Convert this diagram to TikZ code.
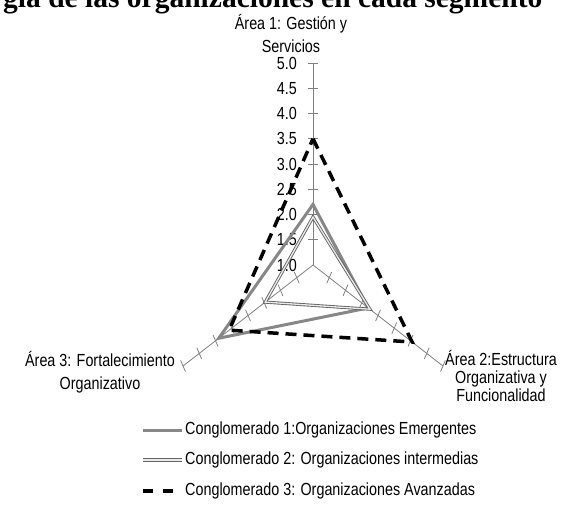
\documentclass[tikz,border=0pt]{standalone}
\usepackage{fontspec}
\setmainfont{Liberation Sans}
\newfontfamily\chartfont[FakeStretch=0.82]{Liberation Sans}
\newfontfamily\titlefont{Liberation Serif}
\definecolor{axisgray}{RGB}{128,128,128}
\definecolor{seriesgray}{RGB}{135,135,135}
\definecolor{dblgray}{RGB}{100,100,100}
\definecolor{dblfill}{RGB}{235,235,235}
\newcommand{\rv}[1]{(#1-1)*50.5}
\begin{document}
\begin{tikzpicture}[x=1pt,y=-1pt,
  axisline/.style={draw=axisgray, line width=0.8pt},
  ticklabel/.style={anchor=east, inner sep=0pt, font=\chartfont\fontsize{17.5}{19}\selectfont},
  arealabel/.style={align=center, inner sep=0pt, font=\chartfont\fontsize{17.5}{23}\selectfont},
  legendtext/.style={anchor=west, inner sep=0pt, font=\chartfont\fontsize{17.5}{19}\selectfont},
  serieA/.style={draw=seriesgray, line width=3pt, line join=miter},
  serieB/.style={draw=dblgray, line width=0.9pt, double=dblfill, double distance=1.3pt, line join=miter},
  serieC/.style={draw=black, line width=3.5pt, dash pattern=on 11pt off 7pt, line join=miter}
]
\useasboundingbox (0,0) rectangle (561,505);
\clip (0,0) rectangle (561,505);

% caption line, cut by the top edge
\node[anchor=base west, inner sep=0pt, font=\titlefont\bfseries\fontsize{29.5}{32}\selectfont]
  (title) at (3,8) {gía de las organizaciones en cada segmento};

% value labels of the radial scale
\foreach \v in {1.0,1.5,2.0,2.5,3.0,3.5,4.0,4.5,5.0} {
  \node[ticklabel] (lab\v) at (297,{265-(\v-1)*50.5}) {\v};
}

% axis titles
\node[arealabel] (area1) at (291,33.5) {Área 1: Gestión y\\Servicios};
\node[arealabel, font=\chartfont\fontsize{17.5}{18}\selectfont] (area2) at (501,376) {Área 2:Estructura\\Organizativa y\\Funcionalidad};
\node[arealabel] (area3) at (100,372) {Área 3: Fortalecimiento\\Organizativo};

% radar axes with tick marks
\begin{scope}[shift={(313,265)}, xscale=0.743]
  \coordinate (O) at (0,0);
  \foreach \a/\n in {-90/1, 30/2, 150/3} {
    \coordinate (end\n) at (\a:202);
    \draw[axisline] (O) -- (end\n);
    \begin{scope}[rotate=-\a]
      \foreach \k in {1,...,8} {
        \draw[axisline] (\k*25.25,-6.5) -- (\k*25.25,6.5);
      }
    \end{scope}
  }

  % data points
  \coordinate (A1) at (-90:{\rv{2.2}});
  \coordinate (A2) at (30:{\rv{2.7}});
  \coordinate (A3) at (150:{\rv{3.9}});
  \coordinate (B1) at (-90:{\rv{1.95}});
  \coordinate (B2) at (30:{\rv{2.75}});
  \coordinate (B3) at (150:{\rv{2.47}});
  \coordinate (C1) at (-90:{\rv{3.5}});
  \coordinate (C2) at (30:{\rv{4.05}});
  \coordinate (C3) at (150:{\rv{3.58}});
\end{scope}

% series polygons
\draw[serieA] (A1) -- (A2) -- (A3) -- cycle;
\draw[serieB] (B1) -- (B2) -- (B3) -- cycle;
\draw[serieC] (C1) -- (C2) -- (C3) -- cycle;

% legend
\coordinate (L1a) at (143,430); \coordinate (L1b) at (182,430);
\coordinate (L2a) at (143,460); \coordinate (L2b) at (182,460);
\coordinate (L3a) at (143,491); \coordinate (L3b) at (153,491);
\coordinate (L3c) at (163,491); \coordinate (L3d) at (173,491);
\draw[serieA] (L1a) -- (L1b);
\draw[serieB] (L2a) -- (L2b);
\draw[draw=black, line width=3.5pt] (L3a) -- (L3b);
\draw[draw=black, line width=3.5pt] (L3c) -- (L3d);
\node[legendtext] (leg1) at (185,430) {Conglomerado 1:Organizaciones Emergentes};
\node[legendtext] (leg2) at (185,460) {Conglomerado 2: Organizaciones intermedias};
\node[legendtext] (leg3) at (185,491) {Conglomerado 3: Organizaciones Avanzadas};
\end{tikzpicture}
\end{document}
